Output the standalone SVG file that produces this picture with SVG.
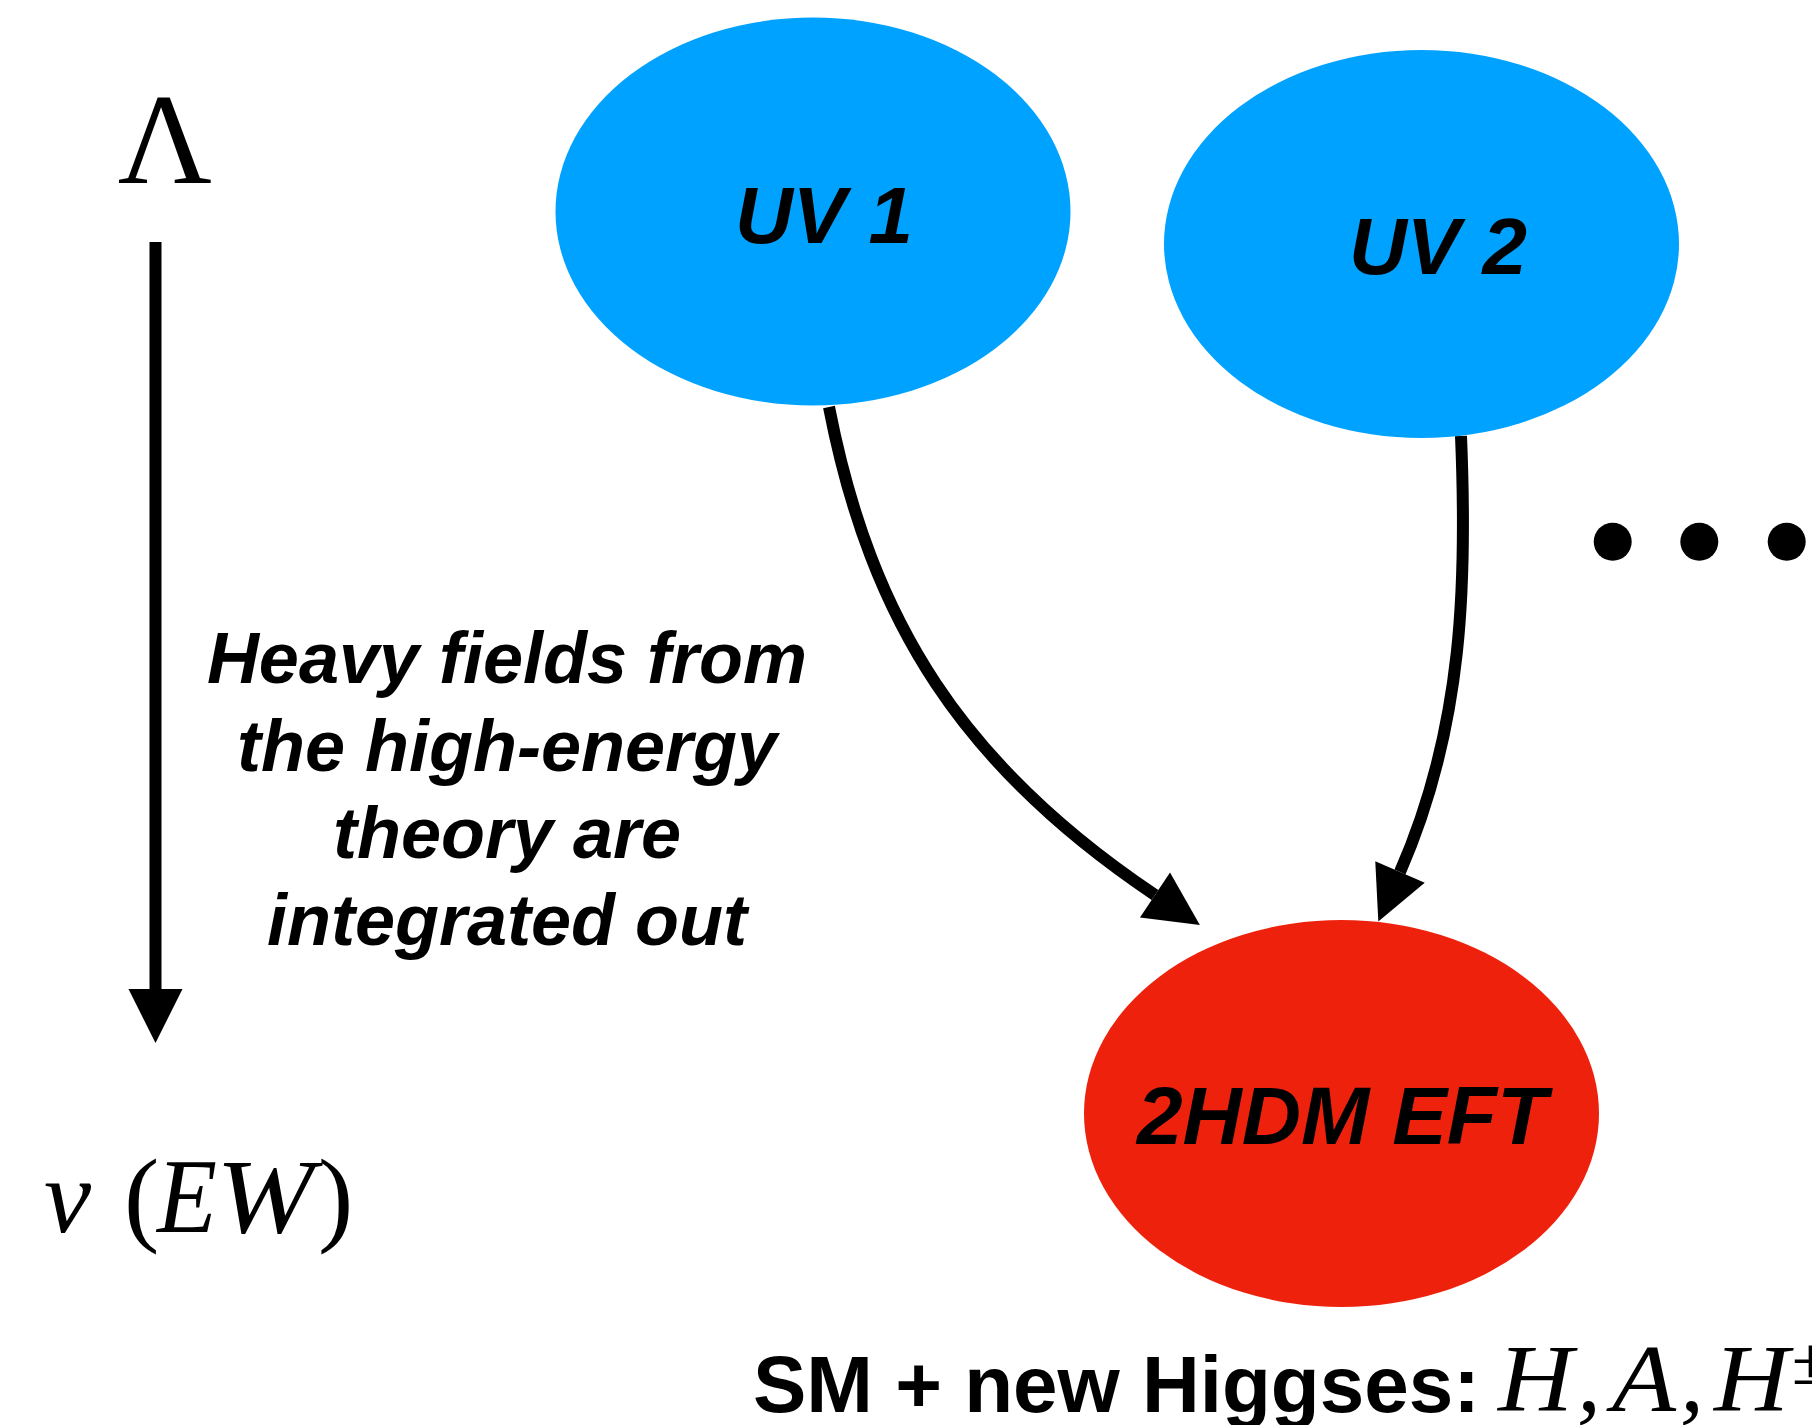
<svg xmlns="http://www.w3.org/2000/svg" width="1812" height="1425" viewBox="0 0 1812 1425">
<defs>
<marker id="ah" markerUnits="userSpaceOnUse" markerWidth="56" markerHeight="56" refX="0" refY="27" orient="auto" overflow="visible">
<path d="M0,0 L54,27 L0,54 Z" fill="#000"/>
</marker>
<style>
.node-uv{fill:#00A2FF}
.node-eft{fill:#EE220C}
.lbl{font-family:"Liberation Sans",Arial,sans-serif;font-weight:bold;font-style:italic;fill:#000;text-anchor:middle}
.math{font-family:"Liberation Serif","Times New Roman",serif;fill:#000}
.mi{font-style:italic}
.conn{fill:none;stroke:#000;stroke-width:12}
.note{font-family:"Liberation Sans",Arial,sans-serif;font-weight:bold;font-style:italic;font-size:72px;fill:#000;text-anchor:middle}
.bot{font-family:"Liberation Sans",Arial,sans-serif;font-weight:bold;font-size:80px;fill:#000}
</style>
</defs>
<rect width="1812" height="1425" fill="#fff"/>

<g id="uv1">
<ellipse class="node-uv" cx="813" cy="211.5" rx="257.5" ry="194"/>
<text class="lbl" x="824" y="242.5" font-size="80">UV 1</text>
</g>
<g id="uv2">
<ellipse class="node-uv" cx="1421.5" cy="244" rx="257.5" ry="194"/>
<text class="lbl" x="1438" y="274" font-size="80">UV 2</text>
</g>
<g id="eft">
<ellipse class="node-eft" cx="1341.5" cy="1113.5" rx="257.5" ry="193.5"/>
<text class="lbl" x="1342" y="1144" font-size="82">2HDM EFT</text>
</g>

<g id="connectors">
<path class="conn" d="M829,407 C871,623 964,767 1155,895" marker-end="url(#ah)"/>
<path class="conn" d="M1461,436 C1467,580 1464,726 1400,872" marker-end="url(#ah)"/>
<path class="conn" d="M155.5,242 L155.5,989" marker-end="url(#ah)"/>
</g>

<g id="scale-labels">
<text class="math" x="165" y="182.5" font-size="130" text-anchor="middle">Λ</text>
<text class="math mi" x="44" y="1232" font-size="106">v</text>
<text class="math" x="124" y="1232" font-size="106">(</text>
<text class="math mi" x="157" y="1232" font-size="106" textLength="60" lengthAdjust="spacingAndGlyphs">E</text>
<text class="math mi" x="216" y="1232" font-size="106" textLength="98" lengthAdjust="spacingAndGlyphs">W</text>
<text class="math" x="318" y="1232" font-size="106">)</text>
</g>

<g id="note">
<text class="note" x="507" y="683">Heavy fields from</text>
<text class="note" x="507" y="770.5">the high-energy</text>
<text class="note" x="507" y="858">theory are</text>
<text class="note" x="507" y="945">integrated out</text>
</g>

<g id="ellipsis">
<circle cx="1612.7" cy="541.7" r="19"/>
<circle cx="1699.3" cy="541.7" r="19"/>
<circle cx="1786.7" cy="541.7" r="19"/>
</g>

<g id="bottom-label">
<text class="bot" x="753" y="1411.5">SM + new Higgses:</text>
<text class="math mi" x="1498" y="1411" font-size="96" textLength="75" lengthAdjust="spacingAndGlyphs">H</text>
<text class="math mi" x="1577" y="1411" font-size="96">,</text>
<text class="math mi" x="1612" y="1411" font-size="96" textLength="64" lengthAdjust="spacingAndGlyphs">A</text>
<text class="math mi" x="1680" y="1411" font-size="96">,</text>
<text class="math mi" x="1714" y="1411" font-size="96" textLength="75" lengthAdjust="spacingAndGlyphs">H</text>
<text class="math" x="1792" y="1384" font-size="67">±</text>
</g>
</svg>
